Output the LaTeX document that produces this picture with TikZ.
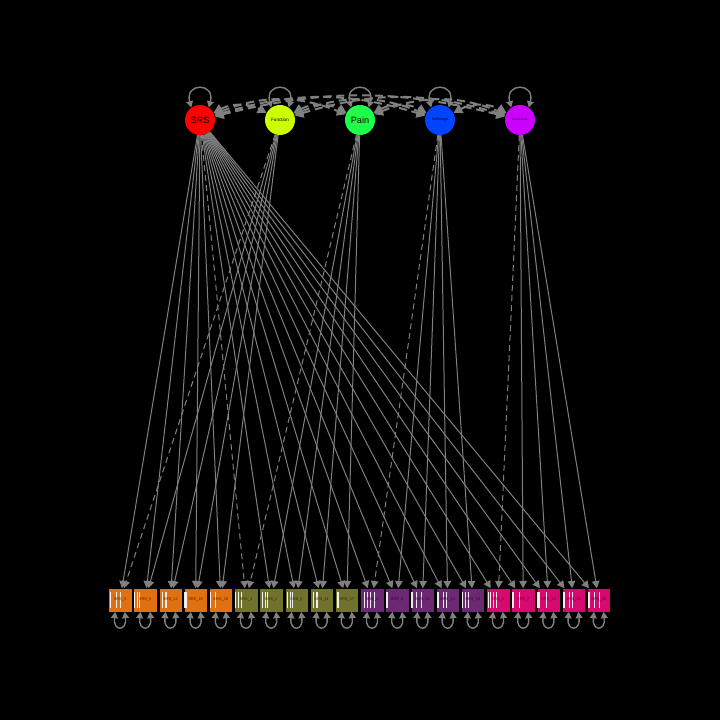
\documentclass[tikz,border=0pt]{standalone}
\usepackage{fontspec}
\setmainfont{Liberation Sans}
\usetikzlibrary{arrows.meta}

\definecolor{csrs}{HTML}{FF0000}
\definecolor{cfun}{HTML}{CCFF00}
\definecolor{cpain}{HTML}{1EFF4A}
\definecolor{cself}{HTML}{0044FF}
\definecolor{cment}{HTML}{CC00FF}
\definecolor{bfun}{HTML}{E07010}
\definecolor{bpain}{HTML}{70722E}
\definecolor{bself}{HTML}{6C2872}
\definecolor{bment}{HTML}{D60A6E}
\definecolor{edgegray}{HTML}{808080}

\tikzset{
  latent/.style={circle, minimum size=7.5mm, inner sep=0pt, fill=#1},
  item/.style={rectangle, minimum width=5.83mm, minimum height=5.83mm, inner sep=0pt, fill=#1, draw=black, line width=0.2pt},
  load/.style={draw=edgegray, line width=0.25mm, -{Triangle[length=1.8mm,width=1.9mm]}},
  fixed/.style={dash pattern=on 1.5mm off 1mm},
  resid/.style={draw=edgegray, line width=0.35mm, {Triangle[length=1.6mm,width=1.7mm]}-{Triangle[length=1.6mm,width=1.7mm]}},
  cov/.style={draw=edgegray, line width=0.5mm, dash pattern=on 2mm off 1.2mm, {Triangle[length=2.2mm,width=2.4mm]}-{Triangle[length=2.2mm,width=2.4mm]}},
}

\begin{document}
\begin{tikzpicture}[x=0.25mm,y=0.25mm]
\fill[black] (0,0) rectangle (720,720);
\useasboundingbox (0,0) rectangle (720,720);

% latent variables
\node[latent=csrs] (srs) at (200,600) {\fontsize{6.5}{8}\selectfont SRS};
\node[latent=cfun] (fun) at (280,600) {\fontsize{3.3}{4}\selectfont Function};
\node[latent=cpain] (pain) at (360,600) {\fontsize{6.5}{8}\selectfont Pain};
\node[latent=cself] (self) at (440,600) {\fontsize{2.6}{3}\selectfont SelfImage};
\node[latent=cment] (ment) at (520,600) {\fontsize{1.9}{2.3}\selectfont MentalHealth};

% observed items, white bars = thresholds
\foreach \i/\lab/\col/\bars in {
  1/SRS\_5/bfun/{1.7/1,7.3/1,11.7/1},
  2/SRS\_9/bfun/{0.7/1,3/1.5,5.7/1},
  3/SRS\_12/bfun/{3.3/1,6/1.8},
  4/SRS\_15/bfun/{0.3/3},
  5/SRS\_18/bfun/{1.3/1,5.7/1},
  6/SRS\_1/bpain/{1.1/1,3.8/1,6.4/1},
  7/SRS\_2/bpain/{2.3/1,5/1,7.6/1},
  8/SRS\_8/bpain/{2.7/1,5.3/1,7.7/1},
  9/SRS\_11/bpain/{3.3/1,6/2},
  10/SRS\_17/bpain/{1.7/2.3},
  11/SRS\_4/bself/{3.3/1,6.7/1,10/1,13.3/1},
  12/SRS\_6/bself/{0.7/1.8},
  13/SRS\_10/bself/{0.7/1.5,5/1,10/1},
  14/SRS\_14/bself/{0.7/2,6.7/1,10/1},
  15/SRS\_19/bself/{0.7/1,4/1,7.3/1},
  16/SRS\_3/bment/{1.3/1,4/1,6.7/1,9.3/1},
  17/SRS\_7/bment/{0.3/2.4,7/1},
  18/SRS\_13/bment/{0.7/2.6,9.3/1},
  19/SRS\_16/bment/{1/2.3,6.7/1,10/1},
  20/SRS\_20/bment/{1/2.3,6.7/1,11.7/1}}{
  \node[item=\col] (y\i) at ({120+25.2*(\i-1)},120) {};
  \foreach \o/\w in \bars
    \fill[white,opacity=.9] ({120+25.2*(\i-1)-11.65+\o},112) rectangle +(\w,16);
  \node[text=\col!35!black] at (y\i) {\fontsize{2.8}{3}\selectfont \lab};
}

% general factor loadings
\foreach \i in {1,...,5,7,8,...,20}
  \draw[load] (srs) -- (y\i);
\draw[load,fixed] (srs) -- (y6);

% specific factor loadings
\foreach \f/\a in {fun/1,pain/6,self/11,ment/16}{
  \draw[load,fixed] (\f) -- (y\a);
  \foreach \k in {1,...,4}{
    \pgfmathtruncatemacro\j{\a+\k}
    \draw[load] (\f) -- (y\j);
  }
}

% residual variances
\foreach \i in {1,...,20}
  \draw[resid] (y\i.-112) .. controls +(-97:20) and +(-83:20) .. (y\i.-68);
\foreach \f in {srs,fun,pain,self,ment}
  \draw[resid] (\f.125) .. controls +(105:26) and +(75:26) .. (\f.55);

% factor covariances
\foreach \a/\b/\bnd in {srs/fun/28,fun/pain/28,pain/self/28,self/ment/28,
    srs/pain/22,fun/self/22,pain/ment/22,srs/self/17,fun/ment/17,srs/ment/14}
  \draw[cov] (\a) to[bend left=\bnd] (\b);
\end{tikzpicture}
\end{document}
